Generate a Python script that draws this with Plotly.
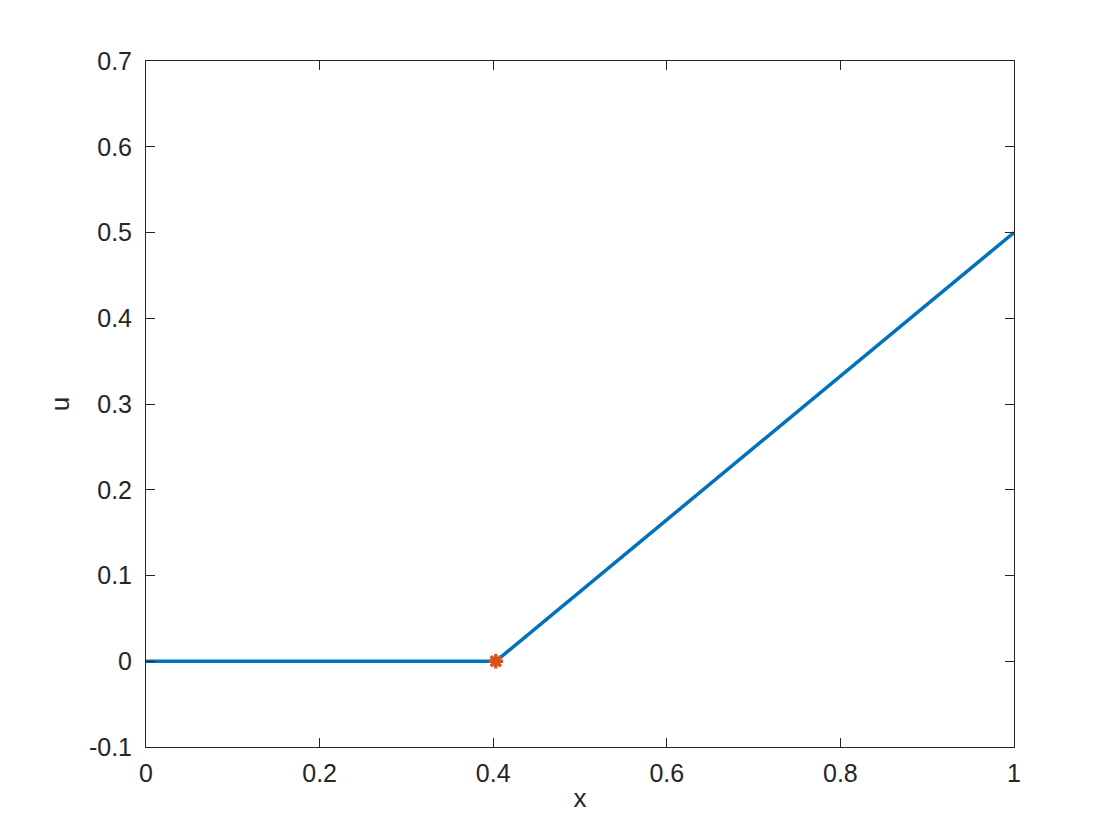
import plotly.graph_objects as go

x_vals = [0.0, 0.403, 1.0]
u_vals = [0.0, 0.0, 0.5]
pt_x = [0.403]
pt_u = [0.0]

FONT = "Liberation Sans"
TXT = "#262626"

fig = go.Figure()
fig.add_trace(go.Scatter(x=x_vals, y=u_vals, mode="lines",
                         line=dict(color="#0072BD", width=3.5), showlegend=False))
fig.add_trace(go.Scatter(x=pt_x, y=pt_u, mode="markers",
                         marker=dict(symbol="asterisk-open", size=12, color="#D95319",
                                     line=dict(color="#D95319", width=3.5)),
                         showlegend=False))

axis_common = dict(showgrid=False, zeroline=False, showline=True, linecolor=TXT,
                   linewidth=1, mirror="ticks", ticks="inside", ticklen=9,
                   tickcolor=TXT, tickfont=dict(family=FONT, size=25, color=TXT))
fig.update_xaxes(range=[0, 1], tickvals=[0, 0.2, 0.4, 0.6, 0.8, 1],
                 ticktext=["0", "0.2", "0.4", "0.6", "0.8", "1"],
                 ticklabelstandoff=4,
                 title=dict(text="x", font=dict(family=FONT, size=26, color=TXT), standoff=2),
                 **axis_common)
fig.update_yaxes(range=[-0.1, 0.7], tickvals=[-0.1, 0, 0.1, 0.2, 0.3, 0.4, 0.5, 0.6, 0.7],
                 ticktext=["-0.1", "0", "0.1", "0.2", "0.3", "0.4", "0.5", "0.6", "0.7"],
                 ticklabelstandoff=8,
                 title=dict(text="u", font=dict(family=FONT, size=26, color=TXT), standoff=11),
                 **axis_common)
fig.update_layout(width=1104, height=824, plot_bgcolor="white", paper_bgcolor="white",
                  margin=dict(l=138, r=98, t=53, b=85, autoexpand=False))
fig.write_html("out.html")
